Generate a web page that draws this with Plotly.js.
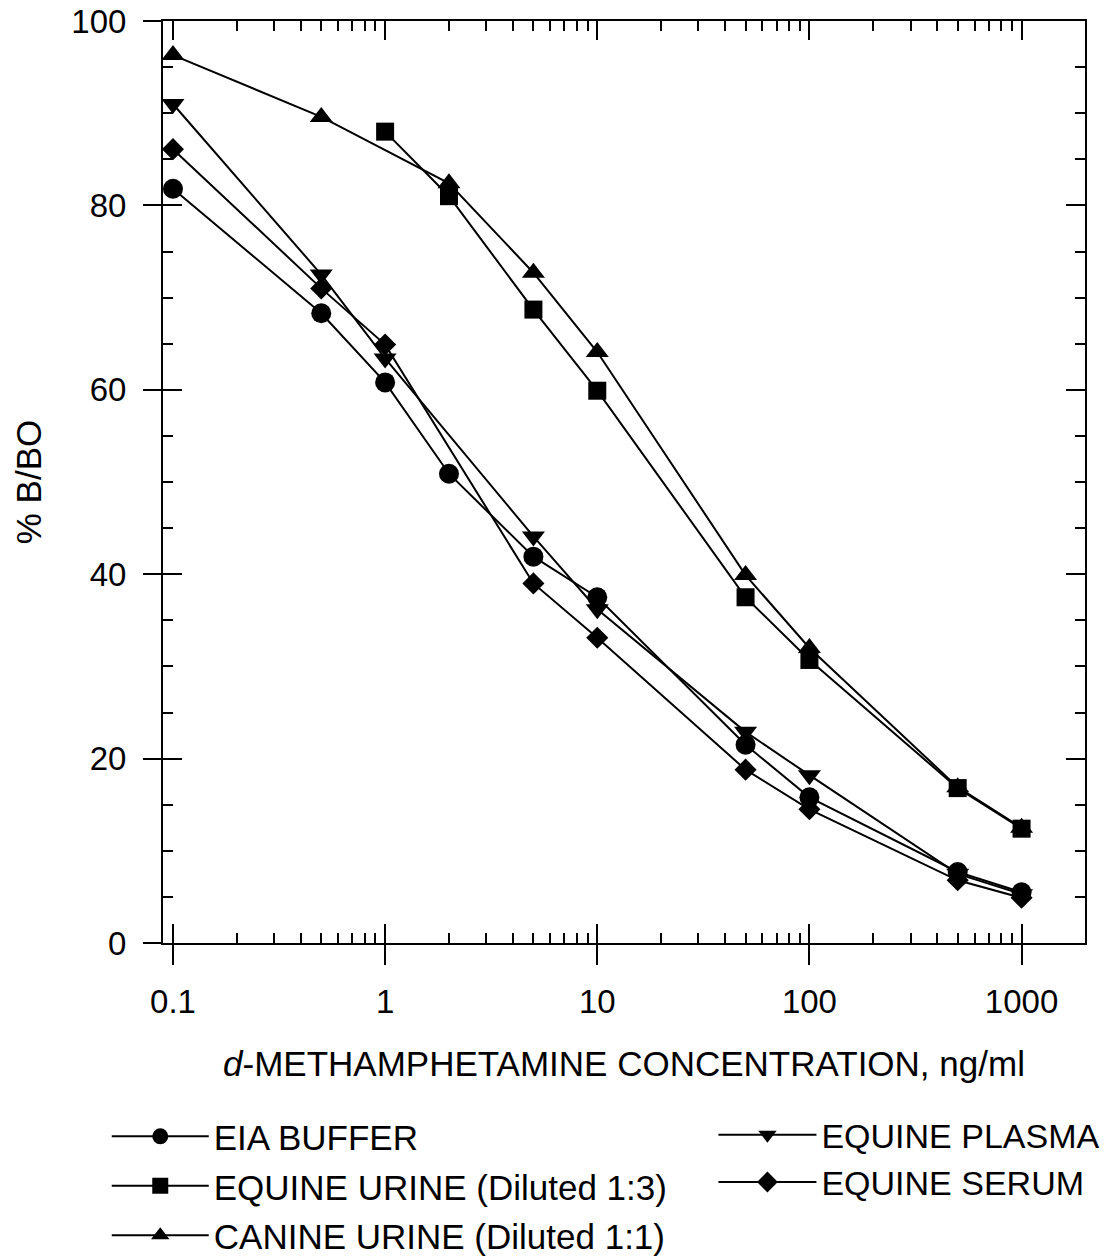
<!DOCTYPE html>
<html>
<head>
<meta charset="utf-8">
<script src="https://cdn.plot.ly/plotly-3.0.1.min.js"></script>
<style>html,body{margin:0;padding:0;background:#fff;}#chart{width:1114px;height:1257px;}</style>
</head>
<body>
<div id="chart"></div>
<script>
// ---- data ----
const eiaX = [0.1, 0.5, 1, 2, 5, 10, 50, 100, 500, 1000];
const eiaY = [81.8, 68.3, 60.8, 50.9, 41.9, 37.5, 21.5, 15.8, 7.7, 5.5];

const urineX = [1, 2, 5, 10, 50, 100, 500, 1000];
const urineY = [88.0, 81.0, 68.7, 59.9, 37.5, 30.7, 16.8, 12.4];

const canineX = [0.1, 0.5, 2, 5, 10, 50, 100, 500, 1000];
const canineY = [96.3, 89.6, 82.4, 72.7, 64.1, 39.9, 32.0, 16.9, 12.5];

const plasmaX = [0.1, 0.5, 1, 5, 10, 50, 100, 500, 1000];
const plasmaY = [91.0, 72.5, 63.4, 44.1, 36.2, 22.9, 18.2, 7.5, 5.3];

const serumX = [0.1, 0.5, 1, 5, 10, 50, 100, 500, 1000];
const serumY = [86.1, 71.0, 64.9, 39.0, 33.1, 18.8, 14.5, 6.8, 4.9];

const xTickVals = [0.1, 1, 10, 100, 1000];
const xTickText = ['0.1', '1', '10', '100', '1000'];
const yTickVals = [0, 20, 40, 60, 80, 100];
const yTickText = ['0', '20', '40', '60', '80', '100'];

// ---- styling ----
const FONT = 'Liberation Sans, Arial, sans-serif';
const minorX = [];
[0.1, 1, 10, 100, 1000].forEach(d => { for (let k = 2; k <= 9; k++) minorX.push(+(d * k).toPrecision(3)); });

const xRange = [-1.047, 3.299];
const yRange = [0, 100];

function tr(name, x, y, symbol, size, legend, group) {
  return {
    type: 'scatter', mode: 'lines+markers', name: name, x: x, y: y,
    line: {color: '#000', width: 2},
    marker: {symbol: symbol, size: size, color: '#000'},
    legend: legend, legendgroup: group, cliponaxis: false
  };
}

const data = [
  tr('EIA BUFFER', eiaX, eiaY, 'circle', 20, 'legend', 'a'),
  tr('EQUINE URINE (Diluted 1:3)', urineX, urineY, 'square', 18, 'legend', 'b'),
  tr('CANINE URINE (Diluted 1:1)', canineX, canineY, 'triangle-up', 20, 'legend', 'c'),
  tr('EQUINE PLASMA', plasmaX, plasmaY, 'triangle-down', 20, 'legend2', 'd'),
  tr('EQUINE SERUM', serumX, serumY, 'diamond', 17, 'legend2', 'e'),
  {type: 'scatter', x: [], y: [], xaxis: 'x2', yaxis: 'y2', showlegend: false, hoverinfo: 'skip'}
];

const layout = {
  width: 1114, height: 1257,
  paper_bgcolor: '#fff', plot_bgcolor: '#fff',
  margin: {l: 163, r: 29, t: 21, b: 314, autoexpand: false},
  font: {family: FONT, color: '#000', size: 33},
  showlegend: true,
  xaxis: {
    type: 'log', range: xRange, fixedrange: true,
    showline: true, linecolor: '#000', linewidth: 2, mirror: false,
    showgrid: false, zeroline: false,
    tickmode: 'array', tickvals: xTickVals, ticktext: xTickText,
    ticks: 'outside', ticklen: 20, tickwidth: 2, tickcolor: '#000',
    ticklabelstandoff: 8,
    tickfont: {size: 33, family: FONT, color: '#000'},
    title: {text: '<i>d</i>-METHAMPHETAMINE CONCENTRATION, ng/ml', font: {size: 35, family: FONT, color: '#000'}, standoff: 33},
    automargin: false
  },
  xaxis2: {
    type: 'log', range: xRange, overlaying: 'x', anchor: 'y2', side: 'bottom', fixedrange: true,
    showline: true, linecolor: '#000', linewidth: 2, mirror: 'ticks',
    showgrid: false, zeroline: false, showticklabels: false,
    tickmode: 'array', tickvals: xTickVals,
    ticks: 'inside', ticklen: 19, tickwidth: 2, tickcolor: '#000',
    minor: {tickmode: 'array', tickvals: minorX, ticks: 'inside', ticklen: 10, tickwidth: 2, tickcolor: '#000', showgrid: false}
  },
  yaxis: {
    range: yRange, fixedrange: true,
    showline: true, linecolor: '#000', linewidth: 2, mirror: false,
    showgrid: false, zeroline: false,
    tickmode: 'array', tickvals: yTickVals, ticktext: yTickText,
    ticks: 'outside', ticklen: 18, tickwidth: 2, tickcolor: '#000',
    ticklabelstandoff: 10,
    tickfont: {size: 33, family: FONT, color: '#000'},
    title: {text: '% B/BO', font: {size: 35, family: FONT, color: '#000'}, standoff: 19},
    automargin: false
  },
  yaxis2: {
    range: yRange, overlaying: 'y', anchor: 'x2', side: 'left', fixedrange: true,
    showline: true, linecolor: '#000', linewidth: 2, mirror: 'ticks',
    showgrid: false, zeroline: false, showticklabels: false,
    tickmode: 'array', tickvals: yTickVals,
    ticks: 'inside', ticklen: 19, tickwidth: 2, tickcolor: '#000',
    minor: {dtick: 5, tick0: 0, ticks: 'inside', ticklen: 10, tickwidth: 2, tickcolor: '#000', showgrid: false}
  },
  legend: {
    x: -0.061, y: -0.178, xanchor: 'left', yanchor: 'top',
    bgcolor: 'rgba(0,0,0,0)', borderwidth: 0,
    font: {size: 35, family: FONT, color: '#000'},
    itemwidth: 97, tracegroupgap: 1, traceorder: 'grouped', itemclick: false
  },
  legend2: {
    x: 0.597, y: -0.177, xanchor: 'left', yanchor: 'top',
    bgcolor: 'rgba(0,0,0,0)', borderwidth: 0,
    font: {size: 34, family: FONT, color: '#000'},
    itemwidth: 98, tracegroupgap: 0, traceorder: 'grouped', itemclick: false
  }
};

Plotly.newPlot('chart', data, layout, {staticPlot: true, displayModeBar: false});
</script>
</body>
</html>
